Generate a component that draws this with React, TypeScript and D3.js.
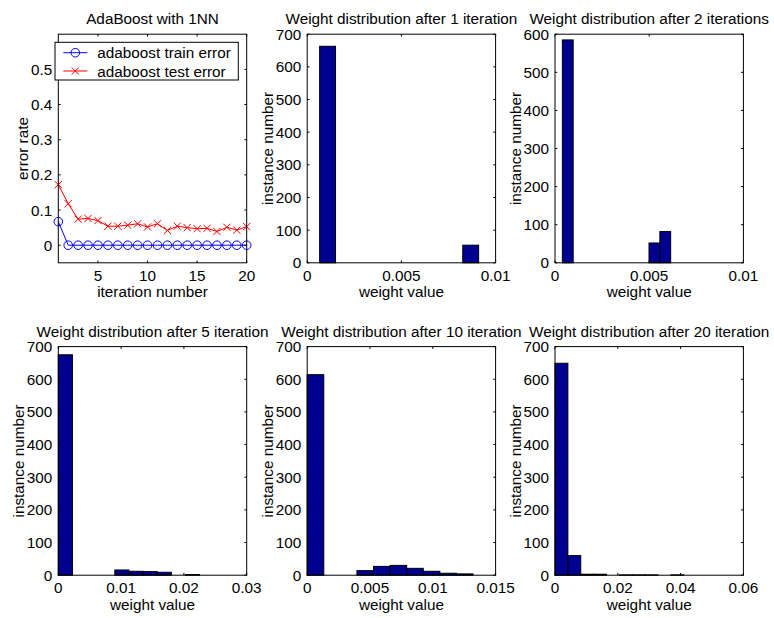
import React from "react";
import * as d3 from "d3";

const FONT = "'Liberation Sans', Arial, Helvetica, sans-serif";
const W = 774;
const H = 618;

// ---------- data: line panel ----------
const iterationNumbers = [1, 2, 3, 4, 5, 6, 7, 8, 9, 10, 11, 12, 13, 14, 15, 16, 17, 18, 19, 20];
const trainError = [0.067, 0, 0, 0, 0, 0, 0, 0, 0, 0, 0, 0, 0, 0, 0, 0, 0, 0, 0, 0];
const testError = [0.172, 0.118, 0.074, 0.076, 0.07, 0.054, 0.054, 0.057, 0.061, 0.052,
  0.061, 0.042, 0.054, 0.05, 0.047, 0.048, 0.039, 0.051, 0.043, 0.053];
const lineXTicks = [5, 10, 15, 20];
const lineYTicks = [0, 0.1, 0.2, 0.3, 0.4, 0.5];
const lineXDomain = [1, 20];
const lineYDomain = [-0.05, 0.6];
const legendLabels = ["adaboost train error", "adaboost test error"];

// ---------- data: histograms ----------
const histTitles = [
  "Weight distribution after 1 iteration",
  "Weight distribution after 2 iterations",
  "Weight distribution after 5 iteration",
  "Weight distribution after 10 iteration",
  "Weight distribution after 20 iteration",
];
const hist1Counts = [663, 0, 0, 0, 0, 0, 0, 0, 0, 54];
const hist2Counts = [585, 0, 0, 0, 0, 0, 0, 0, 52, 82];
const hist5Counts = [675, 0, 0, 0, 16, 12, 11, 9, 0, 2];
const hist10Counts = [614, 0, 0, 14, 27, 30, 21, 12, 6, 4];
const hist20Counts = [649, 60, 3, 3, 0, 1, 1, 1, 0, 1];
// min / max weight of each histogram (bins span this range)
const hist1Range = [0.00066, 0.0091];
const hist2Range = [0.00039, 0.00614];
const hist5Range = [0.0, 0.0225];
const hist10Range = [0.0, 0.0132];
const hist20Range = [0.0, 0.041];
const hist1XTicks = [0, 0.005, 0.01];
const hist2XTicks = [0, 0.005, 0.01];
const hist5XTicks = [0, 0.01, 0.02, 0.03];
const hist10XTicks = [0, 0.005, 0.01, 0.015];
const hist20XTicks = [0, 0.02, 0.04, 0.06];
const histYMax = [700, 600, 700, 700, 700];
const yTicks700 = [0, 100, 200, 300, 400, 500, 600, 700];
const yTicks600 = [0, 100, 200, 300, 400, 500, 600];

const histData = [
  { title: histTitles[0], counts: hist1Counts, range: hist1Range, xTicks: hist1XTicks, yMax: histYMax[0], yTicks: yTicks700 },
  { title: histTitles[1], counts: hist2Counts, range: hist2Range, xTicks: hist2XTicks, yMax: histYMax[1], yTicks: yTicks600 },
  { title: histTitles[2], counts: hist5Counts, range: hist5Range, xTicks: hist5XTicks, yMax: histYMax[2], yTicks: yTicks700 },
  { title: histTitles[3], counts: hist10Counts, range: hist10Range, xTicks: hist10XTicks, yMax: histYMax[3], yTicks: yTicks700 },
  { title: histTitles[4], counts: hist20Counts, range: hist20Range, xTicks: hist20XTicks, yMax: histYMax[4], yTicks: yTicks700 },
];

// ---------- layout ----------
const colLeft = [58.3, 307.2, 555];
const rowTop = [34.2, 346.6];
const axW = 188.4;
const axH = 228.6;
const histSlots = [[0, 1], [0, 2], [1, 0], [1, 1], [1, 2]];
const TICK = 2.3;
const FS = 15.3;
const BAR_FILL = "#000090";

function fmt(v: number) {
  return d3.format("~g")(v);
}

function Frame({ x, y, xTicks, yTicks, left, top, title, xLabel, yLabel, yLabelOff }: any) {
  const bottom = top + axH;
  const right = left + axW;
  return (
    <g>
      <rect x={left} y={top} width={axW} height={axH} fill="none" stroke="#000" strokeWidth={1} />
      {xTicks.map((t: number) => (
        <g key={"x" + t}>
          <line x1={x(t)} x2={x(t)} y1={bottom} y2={bottom - TICK} stroke="#000" />
          <line x1={x(t)} x2={x(t)} y1={top} y2={top + TICK} stroke="#000" />
          <text x={x(t)} y={bottom + 18} textAnchor="middle" fontSize={FS} fontFamily={FONT} fill="#000">
            {fmt(t)}
          </text>
        </g>
      ))}
      {yTicks.map((t: number) => (
        <g key={"y" + t}>
          <line x1={left} x2={left + TICK} y1={y(t)} y2={y(t)} stroke="#000" />
          <line x1={right} x2={right - TICK} y1={y(t)} y2={y(t)} stroke="#000" />
          <text x={left - 6} y={y(t)} dy="0.36em" textAnchor="end" fontSize={FS} fontFamily={FONT} fill="#000">
            {fmt(t)}
          </text>
        </g>
      ))}
      <text x={left + axW / 2} y={top - 10} textAnchor="middle" fontSize={FS} fontFamily={FONT} fill="#000">
        {title}
      </text>
      <text x={left + axW / 2} y={bottom + 34.5} textAnchor="middle" fontSize={FS} fontFamily={FONT} fill="#000">
        {xLabel}
      </text>
      <text
        transform={`translate(${left - yLabelOff},${top + axH / 2}) rotate(-90)`}
        textAnchor="middle"
        fontSize={FS}
        fontFamily={FONT}
        fill="#000"
      >
        {yLabel}
      </text>
    </g>
  );
}

function LinePanel() {
  const left = colLeft[0];
  const top = rowTop[0];
  const x = d3.scaleLinear().domain(lineXDomain).range([left, left + axW]);
  const y = d3.scaleLinear().domain(lineYDomain).range([top + axH, top]);
  const line = d3
    .line<number>()
    .x((_, i) => x(iterationNumbers[i]))
    .y((d) => y(d));
  const xr = 3.6;
  const lg = { x: 55, y: 42.3, w: 183.3, h: 37.7 };
  const rows = [52.7, 71];
  return (
    <g>
      <path d={line(trainError) || ""} fill="none" stroke="#0000ff" strokeWidth={1} />
      {trainError.map((d, i) => (
        <circle key={"c" + i} cx={x(iterationNumbers[i])} cy={y(d)} r={4.3} fill="none" stroke="#0000ff" strokeWidth={1} />
      ))}
      <path d={line(testError) || ""} fill="none" stroke="#ff0000" strokeWidth={1} />
      {testError.map((d, i) => {
        const cx = x(iterationNumbers[i]);
        const cy = y(d);
        return (
          <path
            key={"x" + i}
            d={`M${cx - xr},${cy - xr}L${cx + xr},${cy + xr}M${cx - xr},${cy + xr}L${cx + xr},${cy - xr}`}
            stroke="#ff0000"
            strokeWidth={1}
          />
        );
      })}
      <Frame
        x={x}
        y={y}
        xTicks={lineXTicks}
        yTicks={lineYTicks}
        left={left}
        top={top}
        title="AdaBoost with 1NN"
        xLabel="iteration number"
        yLabel="error rate"
        yLabelOff={30}
      />
      <rect x={lg.x} y={lg.y} width={lg.w} height={lg.h} fill="#fff" stroke="#000" strokeWidth={1} />
      <line x1={63.3} x2={87.3} y1={rows[0]} y2={rows[0]} stroke="#0000ff" />
      <circle cx={75.3} cy={rows[0]} r={4.3} fill="none" stroke="#0000ff" />
      <line x1={63.3} x2={87.3} y1={rows[1]} y2={rows[1]} stroke="#ff0000" />
      <path
        d={`M${75.3 - xr},${rows[1] - xr}L${75.3 + xr},${rows[1] + xr}M${75.3 - xr},${rows[1] + xr}L${75.3 + xr},${rows[1] - xr}`}
        stroke="#ff0000"
      />
      {legendLabels.map((l, i) => (
        <text key={l} x={97.3} y={rows[i]} dy="0.36em" fontSize={FS} fontFamily={FONT} fill="#000">
          {l}
        </text>
      ))}
    </g>
  );
}

function HistPanel({ d, slot }: any) {
  const left = colLeft[slot[1]];
  const top = rowTop[slot[0]];
  const xMax = d.xTicks[d.xTicks.length - 1];
  const x = d3.scaleLinear().domain([0, xMax]).range([left, left + axW]);
  const y = d3.scaleLinear().domain([0, d.yMax]).range([top + axH, top]);
  const n = d.counts.length;
  const step = (d.range[1] - d.range[0]) / n;
  return (
    <g>
      {d.counts.map((c: number, i: number) => {
        const x0 = x(d.range[0] + i * step);
        const x1 = x(d.range[0] + (i + 1) * step);
        return (
          <rect
            key={i}
            x={x0}
            y={y(c)}
            width={x1 - x0}
            height={y(0) - y(c)}
            fill={BAR_FILL}
            stroke="#000"
            strokeWidth={1}
          />
        );
      })}
      <Frame
        x={x}
        y={y}
        xTicks={d.xTicks}
        yTicks={d.yTicks}
        left={left}
        top={top}
        title={d.title}
        xLabel="weight value"
        yLabel="instance number"
        yLabelOff={34}
      />
    </g>
  );
}

export default function App() {
  return (
    <svg
      width={W}
      height={H}
      viewBox={`0 0 ${W} ${H}`}
      style={{ position: "absolute", left: 0, top: 0, background: "#fff" }}
    >
      <rect x={0} y={0} width={W} height={H} fill="#fff" />
      <LinePanel />
      {histData.map((d, i) => (
        <HistPanel key={i} d={d} slot={histSlots[i]} />
      ))}
    </svg>
  );
}
